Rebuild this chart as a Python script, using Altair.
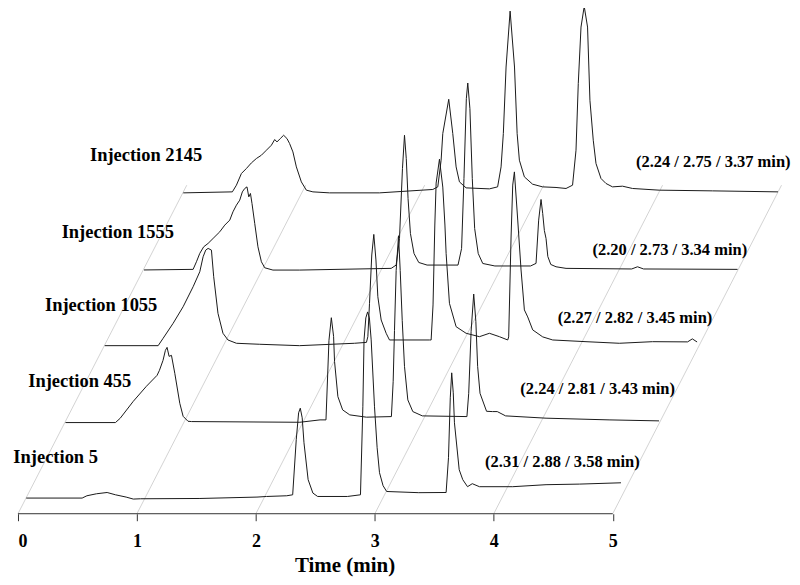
import altair as alt
import pandas as pd

# ---------------- data ----------------
injections = ["Injection 5", "Injection 455", "Injection 1055", "Injection 1555", "Injection 2145"]
retention_labels = ["(2.31 / 2.88 / 3.58 min)", "(2.24 / 2.81 / 3.43 min)",
                    "(2.27 / 2.82 / 3.45 min)", "(2.20 / 2.73 / 3.34 min)",
                    "(2.24 / 2.75 / 3.37 min)"]

t_inj5 = [0.00, 0.47, 0.51, 0.59, 0.68, 0.75, 0.84, 0.90, 0.96, 1.46, 1.94, 2.02, 2.19, 2.24, 2.27,
          2.29, 2.304, 2.32, 2.335, 2.37, 2.41, 2.45, 2.70, 2.81, 2.83, 2.84, 2.855, 2.87, 2.885, 2.90,
          2.928, 2.95, 2.97, 3.00, 3.03, 3.30, 3.53, 3.55, 3.565, 3.577, 3.59, 3.60, 3.64, 3.67, 3.71,
          3.75, 3.81, 4.09, 4.37, 4.65, 5.00]
s_inj5 = [-0.4, -0.4, 1.9, 3.9, 5.2, 2.9, 0.6, -1.4, -1.1, -0.8, 0.6, 1.2, 1.9, 2.9, 58,
          85, 89.6, 80, 55, 18, 4.6, 1.2, 1.2, 2.9, 91, 158, 180, 186, 180, 158,
          91, 50, 25, 12, 6.2, 5, 5.2, 40, 100, 125, 105, 75, 28, 18, 11,
          14, 11, 11, 13, 13.6, 14.9]

t_inj455 = [0.00, 0.42, 0.46, 0.57, 0.68, 0.77, 0.79, 0.82, 0.84, 0.854, 0.871, 0.891, 0.919, 0.961,
            0.989, 1.03, 1.06, 1.97, 2.14, 2.19, 2.215, 2.235, 2.254, 2.262, 2.29, 2.33, 2.39, 2.53,
            2.74, 2.755, 2.766, 2.78, 2.80, 2.814, 2.831, 2.85, 2.878, 2.92, 3.00, 3.375, 3.39, 3.41,
            3.432, 3.45, 3.465, 3.485, 3.54, 3.59, 3.63, 3.70, 4.04, 4.57, 4.99]
s_inj455 = [-1.3, -1.3, 3, 20, 35, 46, 51, 61, 71, 74, 65, 66, 48, 18,
            5, 0, -0.3, -1, 1.4, 1.4, 81, 103.7, 85, 60, 24.7, 11.4, 6.4, 4.1,
            4.7, 40, 91, 151, 185.7, 151, 101, 55, 21.4, 9.7, 5.4, 4.7, 28, 90,
            127.4, 100, 55, 28, 10, 9.7, 9.7, 5.4, 3.1, 1.4, 0.4]

t_inj1055 = [0.00, 0.449, 0.491, 0.575, 0.659, 0.743, 0.799, 0.827, 0.849, 0.869, 0.897, 0.916, 0.952,
             0.994, 1.036, 1.107, 1.303, 1.638, 2.10, 2.20, 2.212, 2.226, 2.245, 2.262, 2.28, 2.296,
             2.324, 2.366, 2.394, 2.73, 2.744, 2.76, 2.775, 2.786, 2.814, 2.842, 2.86, 2.870, 2.898,
             2.954, 3.038, 3.15, 3.234, 3.318, 3.388, 3.396, 3.416, 3.430, 3.444, 3.472, 3.500, 3.528,
             3.556, 3.598, 3.682, 3.766, 4.046, 4.326, 4.605, 4.90, 4.94, 4.98]
s_inj1055 = [-0.8, -0.8, 6.6, 21.6, 38.2, 58.2, 73.2, 88.2, 94.9, 96.6, 94.9, 68.2, 31.6,
             11.6, 4.9, 1.6, 0.6, -0.8, 1.6, 2.5, 8.2, 41.6, 90, 110.6, 85, 48.2,
             24.9, 11.6, 4.9, 4.9, 4.9, 40, 120, 162, 185.9, 158, 120, 91.6, 41.6,
             18.2, 11.6, 8.2, 11.6, 8.2, 4.9, 8, 108, 160, 173.2, 125, 75, 35,
             28, 15, 8, 4.9, 3.2, 1.6, 3.2, 3, 6, 2.9]

t_inj1555 = [0.00, 0.413, 0.441, 0.469, 0.502, 0.539, 0.581, 0.637, 0.679, 0.721, 0.748, 0.777, 0.805,
             0.827, 0.847, 0.866, 0.881, 0.895, 0.908, 0.931, 0.958, 0.987, 1.015, 1.084, 1.309, 2.078,
             2.12, 2.148, 2.173, 2.19, 2.205, 2.22, 2.24, 2.27, 2.31, 2.38, 2.55, 2.64, 2.67, 2.69, 2.71,
             2.722, 2.74, 2.76, 2.78, 2.81, 2.848, 2.95, 3.25, 3.296, 3.318, 3.338, 3.352, 3.366, 3.38,
             3.395, 3.42, 3.464, 3.548, 4.10, 4.149, 4.20, 4.99]
s_inj1555 = [-1.5, -0.9, 6.7, 15.1, 21.7, 25.1, 30.1, 36.7, 43.4, 48.4, 56.7, 63.4, 68.4,
             76.7, 80.1, 81.7, 71.7, 75.1, 65.1, 45.1, 21.7, 6.7, 0.7, -1.6, -1.6, 0.1,
             3.4, 30, 100, 133.4, 110, 70, 35, 15, 6, 3.4, 3.4, 3.4, 20, 90, 170,
             185.7, 160, 90, 40, 15, 5, 2.5, 2.5, 5.1, 48.4, 69.1, 55, 38, 30,
             12, 4, 1.7, 0.1, -0.5, 1.7, -0.5, -0.9]

t_inj2145 = [0.00, 0.413, 0.447, 0.489, 0.531, 0.573, 0.615, 0.657, 0.699, 0.741, 0.769, 0.788, 0.816,
             0.844, 0.872, 0.894, 0.922, 0.951, 0.993, 1.035, 1.090, 1.230, 1.650, 2.098, 2.140, 2.168,
             2.182, 2.232, 2.266, 2.294, 2.322, 2.378, 2.574, 2.643, 2.672, 2.691, 2.714, 2.748, 2.785,
             2.807, 2.826, 2.868, 2.937, 3.021, 3.134, 3.218, 3.273, 3.302, 3.321, 3.344, 3.371, 3.399,
             3.419, 3.447, 3.470, 3.512, 3.554, 3.609, 3.693, 3.777, 4.001, 4.449, 5.00]
s_inj2145 = [-0.8, 0.2, 6.9, 18.6, 23.6, 29.2, 33.6, 36.9, 41.9, 46.9, 52.6, 50.2, 53.6,
             56.9, 53.6, 48.6, 40.2, 25.2, 10.2, 1.9, 0.2, -0.8, -0.8, 2.6, 5.2, 31.9,
             58.6, 92.9, 58.6, 25.2, 10.2, 4.2, 3.2, 5.2, 25.2, 58.6, 125.2, 181.2, 125.2,
             58.6, 31.9, 15.2, 7.9, 5.2, 4.6, 3.6, 6.9, 41.9, 108.6, 165.2, 185.9, 165.2,
             91.9, 51.9, 28.6, 13.6, 8.6, 5.2, 5.9, 3.6, 1.9, 1.2, 0.2]

tick_values = [0, 1, 2, 3, 4, 5]

# annotation anchors in chart coordinates (x in min, y in signal units)
left_label_x = [-0.039, 0.086, 0.227, 0.367, 0.605]
left_label_y = [51, 127, 203, 276, 353]
right_label_x = [3.927, 4.223, 4.537, 4.830, 5.195]
right_label_y = [47, 119.5, 191, 259, 347]

# ---------------- tables ----------------
times = [t_inj5, t_inj455, t_inj1055, t_inj1555, t_inj2145]
signals = [s_inj5, s_inj455, s_inj1055, s_inj1555, s_inj2145]

rows = []
for k, (name, ts, ss) in enumerate(zip(injections, times, signals)):
    for t, s in zip(ts, ss):
        rows.append({"series": name, "k": k, "t": t, "signal": s})
traces = pd.DataFrame(rows)

grid = pd.DataFrame([{"t": t, "d": d} for t in tick_values for d in (0.0, 4.3)])
axis_line = pd.DataFrame([{"x0": tick_values[0], "x1": tick_values[-1], "y": 0}])
labels = pd.DataFrame({
    "text": injections + retention_labels,
    "X": left_label_x + right_label_x,
    "Y": left_label_y + right_label_y,
    "kind": ["left"] * 5 + ["right"] * 5,
})

SERIF = "Liberation Serif"
XMAX = 775 / 119.1
YMAX = 506

x_scale = alt.Scale(domain=[0, XMAX], nice=False, zero=False)
y_scale = alt.Scale(domain=[0, YMAX], nice=False, zero=False)
x_axis = alt.Axis(values=tick_values, domain=False, grid=False, tickSize=7, tickColor="#333333",
                  labelFont=SERIF, labelFontWeight="bold", labelFontSize=18, labelColor="black",
                  labelBaseline="alphabetic", labelPadding=26, format="d",
                  title="Time (min)", titleFont=SERIF, titleFontWeight="bold", titleFontSize=21,
                  titleColor="black", titleX=327, titleY=58, titleAlign="center",
                  titleBaseline="alphabetic")

X = alt.X("X:Q", scale=x_scale, axis=x_axis)
Y = alt.Y("Y:Q", scale=y_scale, axis=None)

gridlines = alt.Chart(grid).transform_calculate(
    X="datum.t + 0.33 * datum.d", Y="76.5 * datum.d"
).mark_line(color="#c8c8c8", strokeWidth=0.8).encode(x=X, y=Y, detail="t:N")

baseline = alt.Chart(axis_line).mark_rule(color="#333333", strokeWidth=1).encode(
    x=alt.X("x0:Q", scale=x_scale, axis=x_axis), x2="x1:Q",
    y=alt.Y("y:Q", scale=y_scale, axis=None))

lines = alt.Chart(traces).transform_calculate(
    X="datum.t + 0.33 * (datum.k + 0.21)",
    Y="datum.signal + 76.5 * (datum.k + 0.21)",
).mark_line(color="#1a1a1a", strokeWidth=1).encode(
    x=X, y=Y, detail="series:N", order="t:Q")

left_text = alt.Chart(labels).transform_filter("datum.kind == 'left'").mark_text(
    align="left", baseline="alphabetic", font=SERIF, fontWeight="bold", fontSize=18.5, color="black"
).encode(x=X, y=Y, text="text:N")

right_text = alt.Chart(labels).transform_filter("datum.kind == 'right'").mark_text(
    align="left", baseline="alphabetic", font=SERIF, fontWeight="bold", fontSize=16.5, color="black"
).encode(x=X, y=Y, text="text:N")

chart = alt.layer(gridlines, baseline, lines, left_text, right_text).properties(
    width=775, height=506,
    padding={"left": 10, "top": 0, "right": 0, "bottom": 70},
    autosize=alt.AutoSizeParams(type="none"),
    background="white",
).configure_view(stroke=None)

chart.save("out.html", embed_options={"renderer": "svg", "actions": False})
